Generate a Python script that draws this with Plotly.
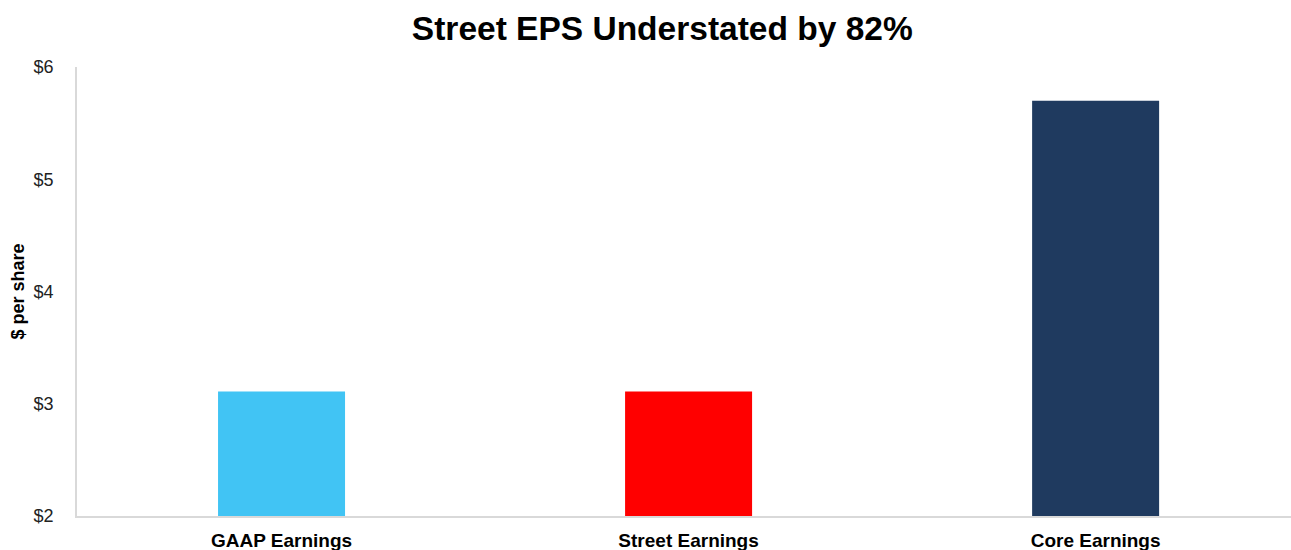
import plotly.graph_objects as go

categories = ["GAAP Earnings", "Street Earnings", "Core Earnings"]
eps_values = [3.11, 3.11, 5.70]
bar_colors = ["#41C4F4", "#FF0000", "#1F3A5F"]
y_tick_vals = [2, 3, 4, 5, 6]
y_tick_text = ["$2", "$3", "$4", "$5", "$6"]

fig = go.Figure(
    go.Bar(
        x=[0, 1, 2],
        y=eps_values,
        marker=dict(color=bar_colors, line=dict(width=0)),
        width=0.312,
        base=0,
    )
)

fig.update_layout(
    width=1291,
    height=550,
    margin=dict(l=77, r=0, t=67, b=34),
    paper_bgcolor="white",
    plot_bgcolor="white",
    showlegend=False,
    title=dict(
        text="<b>Street EPS Understated by 82%</b>",
        x=0.513,
        xanchor="center",
        y=0.949,
        yanchor="middle",
        font=dict(family="Liberation Sans, Arial", size=33.5, color="black"),
    ),
    font=dict(family="Liberation Sans, Arial", color="black"),
)

fig.update_xaxes(
    range=[-0.5025, 2.48],
    tickvals=[0, 1, 2],
    ticktext=[f"<b>{c}</b>" for c in categories],
    tickfont=dict(size=19, color="black"),
    showline=True,
    linecolor="#D9D9D9",
    linewidth=2,
    showgrid=False,
    zeroline=False,
    ticks="",
    ticklabelstandoff=6,
    automargin=False,
)

fig.update_yaxes(
    range=[2, 6],
    tickvals=y_tick_vals,
    ticktext=y_tick_text,
    tickfont=dict(size=18, color="#222222"),
    showline=True,
    linecolor="#D9D9D9",
    linewidth=1.5,
    showgrid=False,
    zeroline=False,
    ticks="",
    ticklabelstandoff=18,
    automargin=False,
    title=dict(
        text="<b>$ per share</b>",
        font=dict(size=18, color="black"),
        standoff=4,
    ),
)

fig.write_html("out.html")
